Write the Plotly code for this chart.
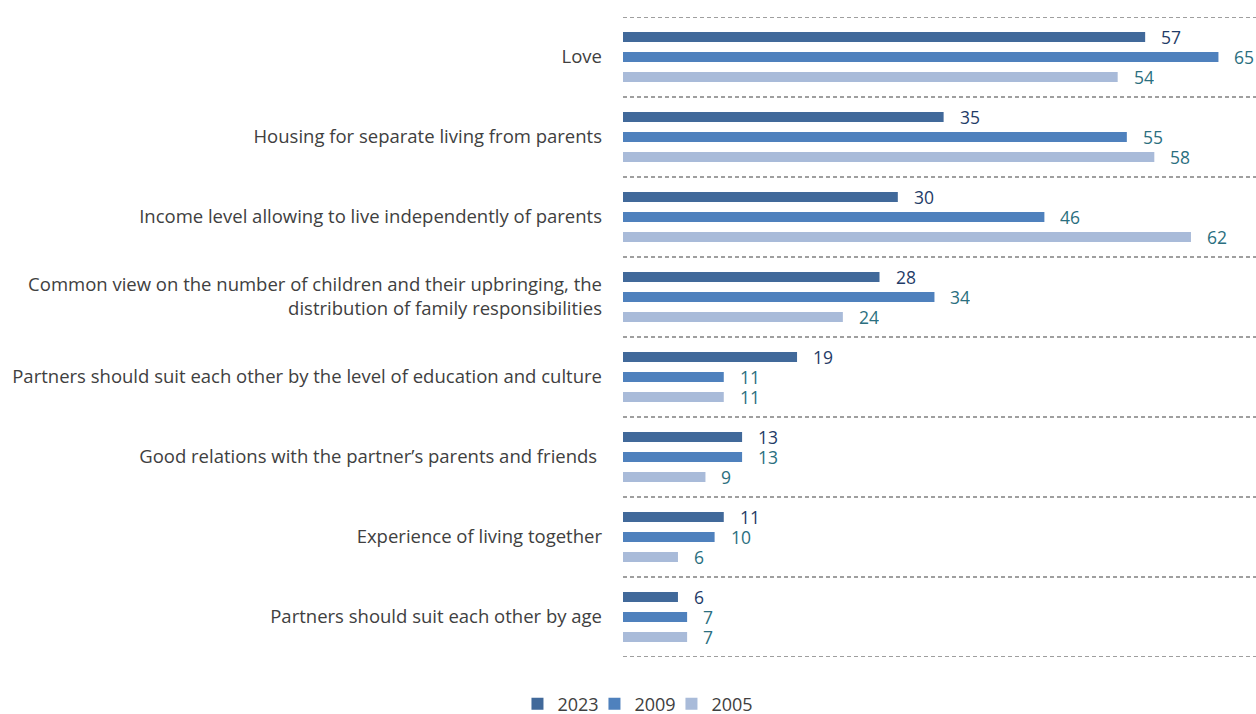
import plotly.graph_objects as go

categories = [
    "Love",
    "Housing for separate living from parents",
    "Income level allowing to live independently of parents",
    "Common view on the number of children and their upbringing, the<br>distribution of family responsibilities",
    "Partners should suit each other by the level of education and culture",
    "Good relations with the partner\u2019s parents and friends ",
    "Experience of living together",
    "Partners should suit each other by age",
]
years = ["2023", "2009", "2005"]
values_2023 = [57, 35, 30, 28, 19, 13, 11, 6]
values_2009 = [65, 55, 46, 34, 11, 13, 10, 7]
values_2005 = [54, 58, 62, 24, 11, 9, 6, 7]

series = [values_2023, values_2009, values_2005]
bar_colors = ["#41699A", "#4F81BD", "#A9BBD9"]
label_colors = ["#1F3C68", "#2B6F80", "#2B6F80"]
legend_ids = ["legend", "legend2", "legend3"]
legend_x = [0.412, 0.4733, 0.5346]  # left edge of each legend entry (container fraction)

FONT = "'Open Sans', Lato, sans-serif"

fig = go.Figure()
for name, vals, col, lg in zip(years, series, bar_colors, legend_ids):
    fig.add_trace(go.Bar(
        y=categories, x=vals, name=name, orientation="h",
        marker=dict(color=col, line=dict(width=0)),
        hoverinfo="x+name", legend=lg,
    ))

# value labels beside each bar
offsets = [-20, 0, 20]  # pixel offsets of the three bars inside a group
annotations = []
for vals, lc, off in zip(series, label_colors, offsets):
    for cat, v in zip(categories, vals):
        annotations.append(dict(
            x=v, y=cat, xref="x", yref="y", text=str(v), showarrow=False,
            xanchor="left", yanchor="middle", xshift=15, yshift=-off,
            height=16, borderpad=0,
            font=dict(family=FONT, size=17.5, color=lc),
        ))

# dashed separators between the category groups
n = len(categories)
shapes = []
for i in range(n + 1):
    yb = i - 0.5
    shapes.append(dict(
        type="line", xref="paper", yref="y", x0=0, x1=1, y0=yb, y1=yb,
        line=dict(color="#808080", width=1.3, dash="4px,3px"),
    ))

legend_style = dict(orientation="h", xref="container", yref="container",
                    y=0.014, xanchor="left", yanchor="middle",
                    font=dict(family=FONT, size=18, color="#404040"),
                    itemwidth=30, bgcolor="rgba(0,0,0,0)")

fig.update_layout(
    width=1256, height=714,
    barmode="group", bargap=0.25, bargroupgap=0.5,
    plot_bgcolor="white", paper_bgcolor="white",
    margin=dict(l=623, r=0, t=17, b=57),
    font=dict(family=FONT, size=18.5, color="#404040"),
    xaxis=dict(range=[0, 69.1], showgrid=False, showticklabels=False,
               zeroline=False, showline=False, fixedrange=True),
    yaxis=dict(showgrid=False, zeroline=False, showline=False, ticks="",
               ticklabelstandoff=20,
               tickfont=dict(family=FONT, size=18.5, color="#404040")),
    showlegend=True,
    legend=dict(x=legend_x[0], **legend_style),
    legend2=dict(x=legend_x[1], **legend_style),
    legend3=dict(x=legend_x[2], **legend_style),
    annotations=annotations,
    shapes=shapes,
)
fig.update_yaxes(range=[n - 0.5, -0.5], autorange=False)

fig.write_html("out.html")
